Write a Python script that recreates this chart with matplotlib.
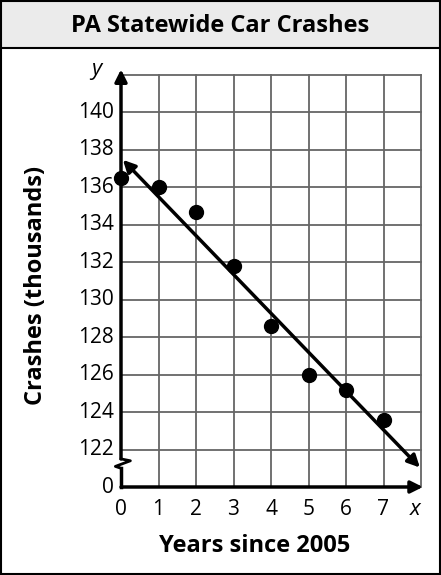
import matplotlib.pyplot as plt
from matplotlib.patches import Rectangle

plt.rcParams['font.family'] = ['Open Sans', 'DejaVu Sans']

# data
years = [0, 1, 2, 3, 4, 5, 6, 7]
crashes = [136.5, 136.0, 134.7, 131.8, 128.6, 126.0, 125.2, 123.6]
trend_x = [0.05, 7.97]
trend_y = [137.47, 121.04]
y_ticks = [122, 124, 126, 128, 130, 132, 134, 136, 138, 140]

W, H = 441, 575
fig = plt.figure(figsize=(W / 100, H / 100), dpi=100)

# frame and title box
fig.patches.append(Rectangle((0.002, 0.002), 0.996, 0.996, transform=fig.transFigure,
                             fill=False, lw=1.5, ec='black'))
fig.patches.append(Rectangle((0.002, 1 - 48 / H), 0.996, 48 / H - 0.002, transform=fig.transFigure,
                             fc='#ebebeb', lw=1.5, ec='black'))
fig.text(0.5, 1 - 26 / H, 'PA Statewide Car Crashes', ha='center', va='center',
         fontsize=17, fontweight='bold')

ax = fig.add_axes([121 / W, 1 - 487 / H, 300 / W, 412 / H])
ax.set_xlim(0, 8)
ax.set_ylim(120, 142)
ax.axis('off')

# grid
for gx in range(1, 9):
    ax.plot([gx, gx], [120, 142], color='#666666', lw=1.3, clip_on=False)
for gy in y_ticks + [142]:
    ax.plot([0, 8], [gy, gy], color='#666666', lw=1.3, clip_on=False)

# axes with arrows and break
arrow = dict(arrowstyle='-|>', lw=2.5, color='black', mutation_scale=18, shrinkA=0, shrinkB=0)
ax.annotate('', xy=(8.05, 120), xytext=(0, 120), arrowprops=arrow, annotation_clip=False)
ax.plot([0, 0], [120, 121.0], color='black', lw=2.5, clip_on=False)
ax.plot([0, -0.15, 0.25, 0], [121.0, 121.1, 121.4, 121.5], color='black', lw=2, clip_on=False)
ax.annotate('', xy=(0, 142.3), xytext=(0, 121.5), arrowprops=arrow, annotation_clip=False)

# trend line
ax.annotate('', xy=(trend_x[1], trend_y[1]), xytext=(trend_x[0], trend_y[0]),
            arrowprops=dict(arrowstyle='<|-|>', lw=2.5, color='black', mutation_scale=18,
                            shrinkA=0, shrinkB=0), annotation_clip=False)

ax.scatter(years, crashes, s=100, color='black', zorder=5, clip_on=False)

# tick labels
for i in years:
    ax.text(i, 118.8, str(i), ha='center', va='center', fontsize=15)
ax.text(7.85, 118.8, 'x', ha='center', va='center', fontsize=16, style='italic')
for t in y_ticks:
    ax.text(-0.2, t, str(t), ha='right', va='center', fontsize=15)
ax.text(-0.2, 120, '0', ha='right', va='center', fontsize=15)
ax.text(-0.65, 142.3, 'y', ha='center', va='center', fontsize=16, style='italic')

fig.text(255 / W, 1 - 546 / H, 'Years since 2005', ha='center', va='center',
         fontsize=17, fontweight='bold')
fig.text(36 / W, 1 - 285 / H, 'Crashes (thousands)', ha='center', va='center',
         fontsize=17, fontweight='bold', rotation=90)

fig.savefig('out.png', dpi=100)
